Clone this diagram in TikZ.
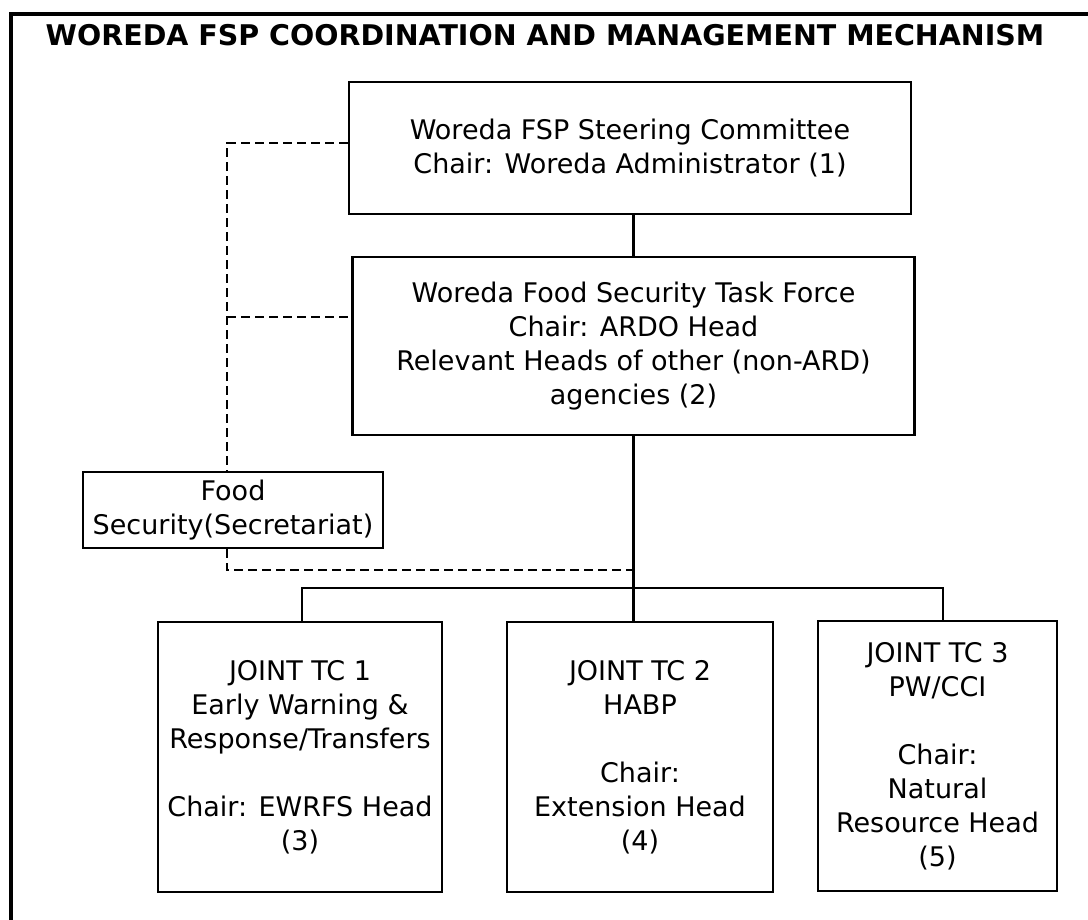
\documentclass[tikz,border=0pt]{standalone}
\usepackage{fontspec}
\setmainfont{DejaVu Sans}
\usetikzlibrary{calc}
\begin{document}
\begin{tikzpicture}[x=1pt,y=-1pt,
  box/.style={draw=black,line width=2.6pt,inner sep=0pt,align=center,
    font=\fontsize{27}{34}\selectfont},
  link/.style={draw=black,line width=2.6pt},
  dashlink/.style={draw=black,line width=2.4pt,dash pattern=on 9pt off 5pt}]
\useasboundingbox (0,0) rectangle (1088,920);
\fill[white] (0,0) rectangle (1088,920);
% outer frame (open at the right and bottom)
\draw[line width=3.5pt] (11,922) -- (11,14) -- (1090,14);
\node (title) at (545,35) {\fontsize{28.5}{32}\selectfont\bfseries WOREDA FSP COORDINATION AND MANAGEMENT MECHANISM};

% committee boxes
\node[box,minimum width=562pt,minimum height=132pt] (sc) at (630,148)
  {Woreda FSP Steering Committee\\Chair: Woreda Administrator (1)};
\node[box,minimum width=562pt,minimum height=178pt] (tf) at (633.5,346)
  {Woreda Food Security Task Force\\Chair: ARDO Head\\Relevant Heads of other (non-ARD)\\agencies (2)};
\node[box,minimum width=300pt,minimum height=76pt] (sec) at (233,510)
  {Food\\Security(Secretariat)};
\node[box,minimum width=284pt,minimum height=270pt] (tc1) at (300,757)
  {JOINT TC 1\\Early Warning \&\\Response/Transfers\\[34pt]Chair: EWRFS Head\\(3)};
\node[box,minimum width=266pt,minimum height=270pt] (tc2) at (640,757)
  {JOINT TC 2\\HABP\\[34pt]Chair:\\Extension Head\\(4)};
\node[box,minimum width=239pt,minimum height=270pt] (tc3) at (937.5,756)
  {JOINT TC 3\\PW/CCI\\[34pt]Chair:\\Natural\\Resource Head\\(5)};

% solid reporting lines
\coordinate (bus) at (633,588);
\draw[link] (tf.north) -- (tf.north |- sc.south);
\draw[link] (tf.south) -- (tf.south |- tc2.north);
\draw[link] ([xshift=2pt]tc1.north) |- (bus) -| ([xshift=5.5pt]tc3.north);

% dashed links of the secretariat
\coordinate (dtop) at (227,143);
\coordinate (dmid) at (227,317);
\coordinate (dbot) at (227,570);
\draw[dashlink] (sc.west |- dtop) -- (dtop) -- (dtop |- sec.north);
\draw[dashlink] (dmid) -- (dmid -| tf.west);
\draw[dashlink] (dtop |- sec.south) -- (dbot) -- (dbot -| tf.south);
\end{tikzpicture}
\end{document}
